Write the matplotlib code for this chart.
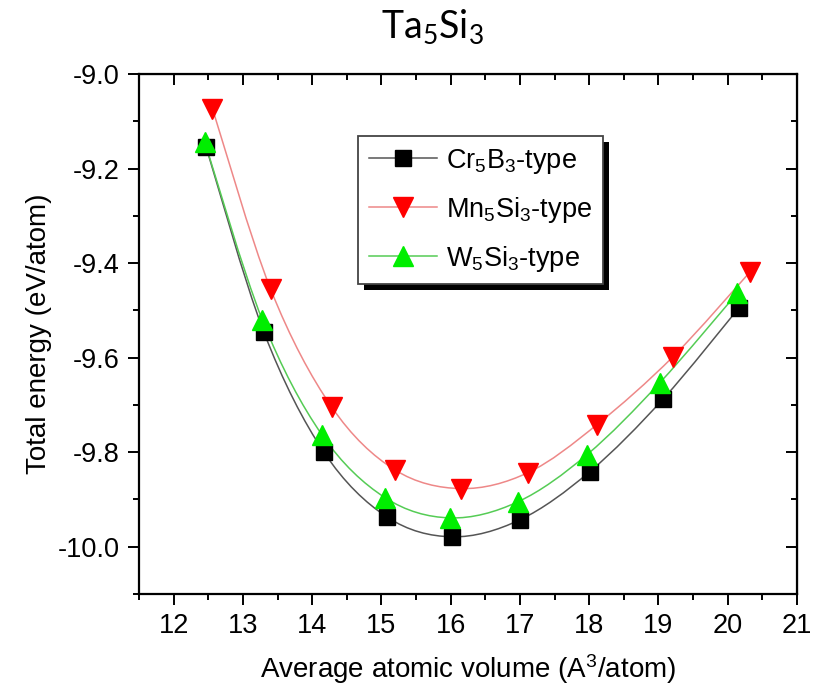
import numpy as np
import matplotlib
matplotlib.use('Agg')
import matplotlib.pyplot as plt
from matplotlib.path import Path
from matplotlib.patches import PathPatch, Rectangle
from matplotlib.lines import Line2D
from matplotlib.ticker import MultipleLocator

plt.rcParams['font.family'] = ['Liberation Sans', 'DejaVu Sans']

# Data
cr5b3_vol = [12.47, 13.30, 14.17, 15.08, 16.02, 17.00, 18.01, 19.07, 20.16]
cr5b3_e = [-9.155, -9.545, -9.800, -9.937, -9.979, -9.943, -9.841, -9.687, -9.495]

mn5si3_vol = [12.56, 13.40, 14.28, 15.19, 16.15, 17.12, 18.11, 19.21, 20.32]
mn5si3_e = [-9.073, -9.455, -9.704, -9.837, -9.877, -9.843, -9.742, -9.598, -9.419]

w5si3_vol = [12.45, 13.28, 14.14, 15.05, 15.99, 16.97, 17.97, 19.02, 20.14]
w5si3_e = [-9.144, -9.520, -9.763, -9.896, -9.939, -9.905, -9.805, -9.653, -9.463]

labels = [r'$\mathregular{Cr_5B_3}$-type',
          r'$\mathregular{Mn_5Si_3}$-type',
          r'$\mathregular{W_5Si_3}$-type']


def smooth_path(xs, ys):
    """Catmull-Rom curve through the points, as cubic Bezier path."""
    p = np.column_stack([xs, ys])
    ext = np.vstack([p[0], p, p[-1]])
    verts = [p[0]]
    codes = [Path.MOVETO]
    for i in range(1, len(ext) - 2):
        c1 = ext[i] + (ext[i + 1] - ext[i - 1]) / 6
        c2 = ext[i + 1] - (ext[i + 2] - ext[i]) / 6
        verts += [c1, c2, ext[i + 1]]
        codes += [Path.CURVE4] * 3
    return Path(verts, codes)


fig = plt.figure(figsize=(8.27, 6.95), dpi=100)
ax = fig.add_axes([139 / 827, 101 / 695, 658 / 827, 520 / 695])

series = [
    (cr5b3_vol, cr5b3_e, 's', 'black', '#555555', 11),
    (mn5si3_vol, mn5si3_e, 'v', '#ff0000', '#ee8888', 14),
    (w5si3_vol, w5si3_e, '^', '#00ee00', '#55cc55', 14),
]

handles = []
for (xs, ys, m, mc, lc, ms), lab in zip(series, labels):
    ax.add_patch(PathPatch(smooth_path(xs, ys), facecolor='none',
                           edgecolor=lc, lw=1.1, zorder=2))
    handles.append(Line2D([], [], color=lc, lw=1.1, marker=m, ms=ms,
                          mfc=mc, mec=mc))

# markers drawn after all curves; red first, then black, green on top
for idx in (1, 0, 2):
    xs, ys, m, mc, lc, ms = series[idx]
    ax.plot(xs, ys, ls='none', marker=m, ms=ms, mfc=mc, mec=mc, zorder=3)

ax.set_xlim(11.5, 21)
ax.set_ylim(-10.1, -9.0)
ax.xaxis.set_major_locator(MultipleLocator(1))
ax.xaxis.set_minor_locator(MultipleLocator(0.5))
ax.yaxis.set_major_locator(MultipleLocator(0.2))
ax.yaxis.set_minor_locator(MultipleLocator(0.1))
ax.yaxis.set_major_formatter(plt.FuncFormatter(lambda v, p: f'{v:.1f}'))
ax.xaxis.set_major_formatter(plt.FuncFormatter(lambda v, p: f'{v:.0f}'))

for s in ax.spines.values():
    s.set_linewidth(1.6)
ax.tick_params(which='major', direction='out', length=8, width=1.4,
               labelsize=19.5, pad=6)
ax.tick_params(which='minor', direction='out', length=4.5, width=1.4)

# mirrored ticks pointing inward on top and right
top = ax.secondary_xaxis('top')
top.xaxis.set_major_locator(MultipleLocator(1))
top.xaxis.set_minor_locator(MultipleLocator(0.5))
top.tick_params(which='major', direction='in', length=8, width=1.4,
                labeltop=False)
top.tick_params(which='minor', direction='in', length=4.5, width=1.4)
right = ax.secondary_yaxis('right')
right.yaxis.set_major_locator(MultipleLocator(0.2))
right.yaxis.set_minor_locator(MultipleLocator(0.1))
right.tick_params(which='major', direction='in', length=8, width=1.4,
                  labelright=False)
right.tick_params(which='minor', direction='in', length=4.5, width=1.4)

ax.set_xlabel(r'Average atomic volume (A$\mathregular{^3}$/atom)',
              fontsize=20, labelpad=9)
ax.set_ylabel('Total energy (eV/atom)', fontsize=20, labelpad=4)

leg = ax.legend(handles, labels, loc='upper left',
                bbox_to_anchor=(0.333, 0.881), fontsize=19.5,
                handlelength=2.5, handletextpad=0.35, labelspacing=0.7,
                borderpad=0.4, borderaxespad=0, fancybox=False,
                framealpha=1, edgecolor='#444444')
leg.get_frame().set_linewidth(1.3)
leg.set_zorder(6)

fig.text(432 / 827, 1 - 38 / 695, r'$\mathregular{Ta_5Si_3}$',
         ha='center', va='baseline', fontsize=27,
         family=['Lato', 'DejaVu Sans'])

# black drop shadow behind the legend box
fig.canvas.draw()
bb = leg.get_window_extent()
off = 6
shadow = Rectangle((bb.x0 + off, bb.y0 - off), bb.width, bb.height,
                   transform=None, facecolor='black', edgecolor='none',
                   zorder=5)
ax.add_artist(shadow)

fig.savefig('out.png', dpi=100)
